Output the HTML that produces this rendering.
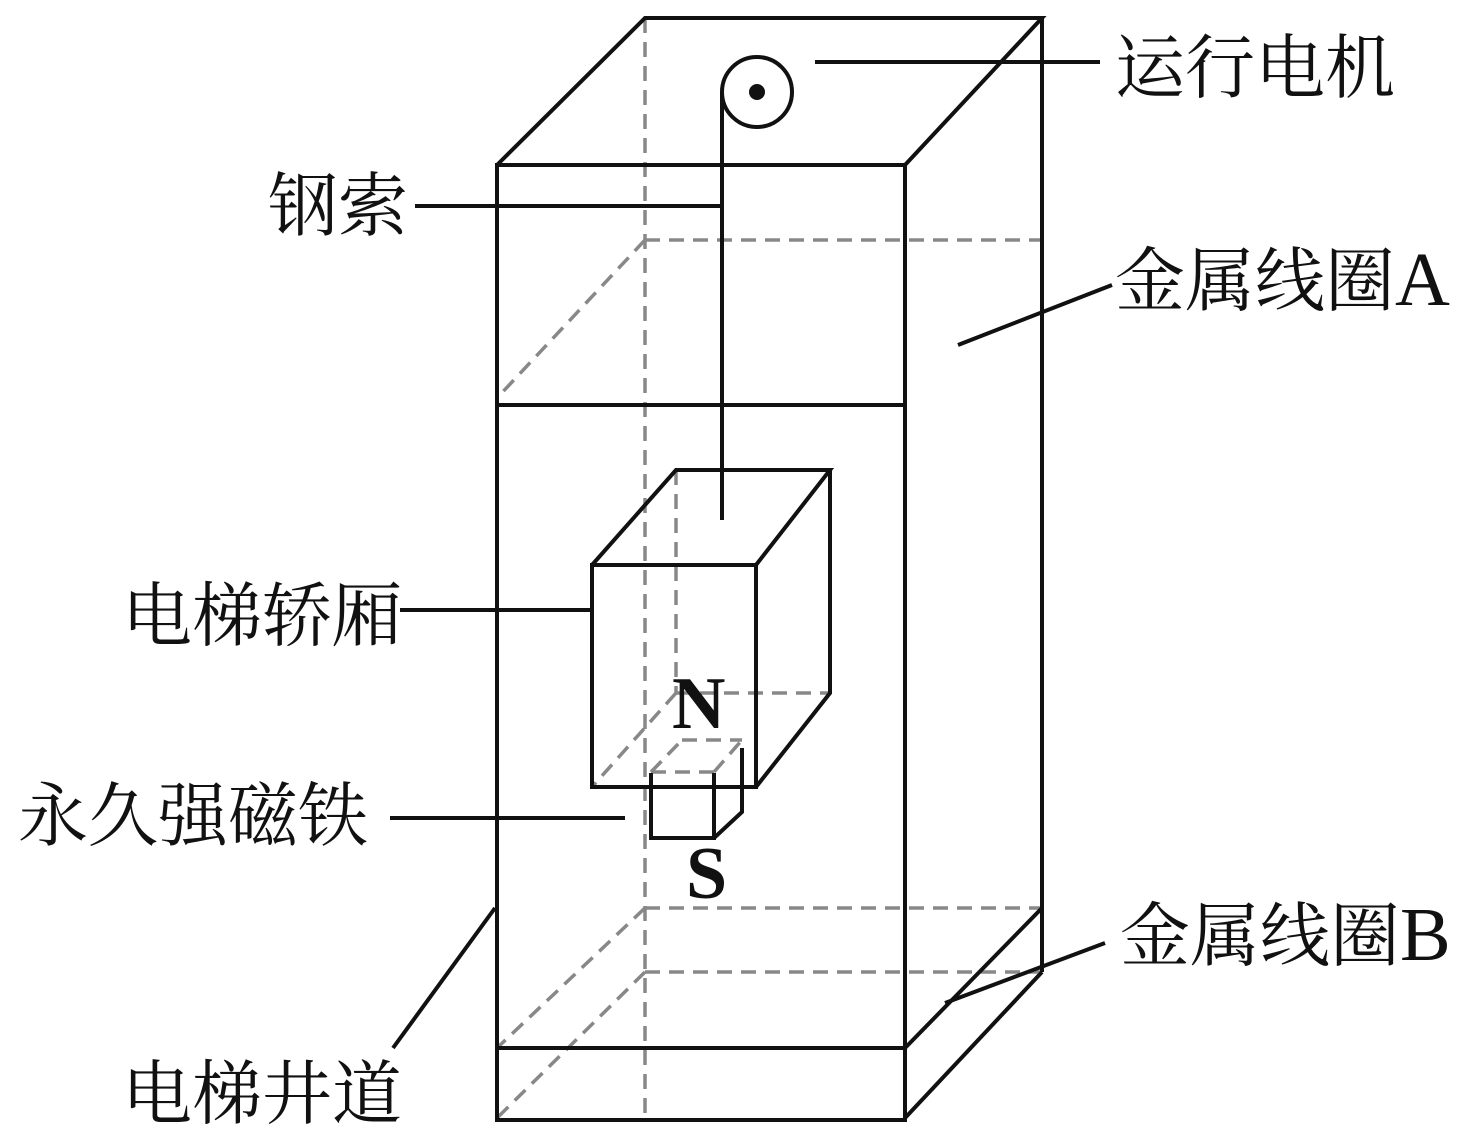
<!DOCTYPE html>
<html><head><meta charset="utf-8"><style>
html,body{margin:0;padding:0;background:#fff;}
svg{display:block;}
text{font-family:"Noto Serif CJK SC","Noto Sans CJK SC",serif;fill:#111;}
.lat{font-family:"Liberation Serif","DejaVu Serif",serif;}
</style></head><body>
<svg width="1478" height="1144" viewBox="0 0 1478 1144" xmlns="http://www.w3.org/2000/svg">
<g stroke="#888" stroke-width="3.5" stroke-dasharray="15,9" fill="none">
<line x1="645" y1="18" x2="645" y2="1120"/>
<line x1="645" y1="240" x2="1042" y2="240"/>
<line x1="645" y1="240" x2="497" y2="398"/>
<line x1="645" y1="908" x2="1042" y2="908"/>
<line x1="645" y1="908" x2="497" y2="1048"/>
<line x1="645" y1="972" x2="1042" y2="972"/>
<line x1="645" y1="972" x2="497" y2="1118"/>
<line x1="676" y1="470" x2="676" y2="693"/>
<line x1="676" y1="693" x2="830" y2="693"/>
<line x1="676" y1="693" x2="592" y2="787"/>
<line x1="651" y1="772" x2="714" y2="772"/>
<line x1="651" y1="772" x2="682" y2="740"/>
<line x1="682" y1="740" x2="742" y2="740"/>
<line x1="714" y1="772" x2="742" y2="740"/>
</g>
<g stroke="#111" stroke-width="4" fill="none" stroke-linejoin="miter">
<rect x="497" y="165" width="408" height="955"/>
<polyline points="497,165 645,18 1042,18 905,165"/>
<line x1="1042" y1="18" x2="1042" y2="972"/>
<line x1="1042" y1="972" x2="905" y2="1118"/>
<line x1="497" y1="405" x2="905" y2="405"/>
<line x1="497" y1="1048" x2="905" y2="1048"/>
<line x1="905" y1="1048" x2="1042" y2="908"/>
<rect x="592" y="565" width="164" height="222"/>
<polyline points="592,565 676,470 830,470 756,565"/>
<polyline points="830,470 830,693 756,787"/>
<polyline points="651,773 651,838 714,838 714,773"/>
<polyline points="714,838 742,812 742,748"/>
<line x1="722" y1="92" x2="722" y2="520"/>
<circle cx="757" cy="92" r="35"/>
<line x1="815" y1="62" x2="1100" y2="62"/>
<line x1="415" y1="206" x2="722" y2="206"/>
<line x1="958" y1="345" x2="1112" y2="285"/>
<line x1="400" y1="610" x2="592" y2="610"/>
<line x1="390" y1="818" x2="625" y2="818"/>
<line x1="945" y1="1003" x2="1105" y2="943"/>
<line x1="393" y1="1048" x2="495" y2="908"/>
</g>
<circle cx="757" cy="92" r="8" fill="#111"/>
<text class="lat" x="672" y="728" font-size="74" font-weight="bold">N</text>
<text class="lat" x="686" y="898" font-size="74" font-weight="bold">S</text>
<g font-size="70">
<text x="1115" y="92">运行电机</text>
<text x="268" y="230">钢索</text>
<text x="1115" y="305">金属线圈<tspan class="lat" font-size="76">A</tspan></text>
<text x="122" y="640">电梯轿厢</text>
<text x="18" y="840">永久强磁铁</text>
<text x="1120" y="960">金属线圈<tspan class="lat" font-size="76">B</tspan></text>
<text x="122" y="1118">电梯井道</text>
</g>
</svg>
</body></html>
